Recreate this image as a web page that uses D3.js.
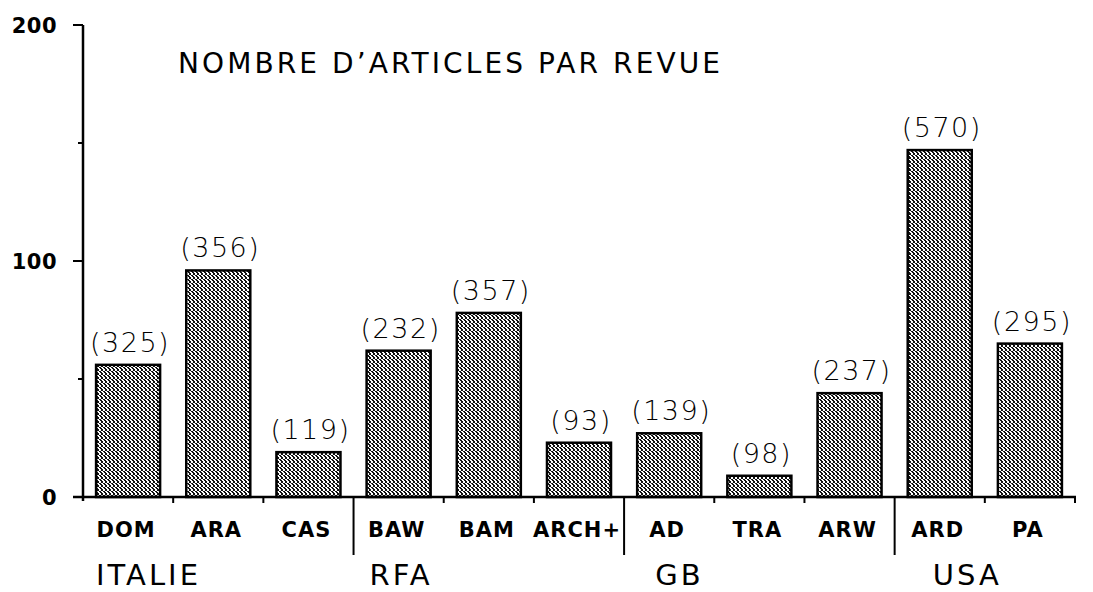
<!DOCTYPE html>
<html>
<head>
<meta charset="utf-8">
<script src="https://cdn.jsdelivr.net/npm/d3@7"></script>
<style>
  html, body { margin: 0; padding: 0; background: #fff; }
  svg { display: block; }
  text { fill: #000; }
</style>
</head>
<body>
<script>
// values
var categories = ["DOM", "ARA", "CAS", "BAW", "BAM", "ARCH+", "AD", "TRA", "ARW", "ARD", "PA"]
var values = [56, 96, 19, 62, 78, 23, 27, 9, 44, 147, 65]
var totals = ["(325)", "(356)", "(119)", "(232)", "(357)", "(93)", "(139)", "(98)", "(237)", "(570)", "(295)"]
var groups = ["ITALIE", "RFA", "GB", "USA"]
var groupStart = [0, 3, 6, 9] // index of first category of each group
var yTicks = [0, 100, 200]
var yMinorTicks = [50, 150]

var width = 1093, height = 592

var svg = d3.select("body").append("svg")
    .attr("width", width)
    .attr("height", height)

// dithered fill like the old mac pattern
var defs = svg.append("defs")
var pat = defs.append("pattern")
    .attr("id", "dither")
    .attr("patternUnits", "userSpaceOnUse")
    .attr("width", 4)
    .attr("height", 4)
pat.append("rect").attr("width", 4).attr("height", 4).attr("fill", "#fff")
var pix = [[0, 0], [1, 0], [1, 1], [2, 1], [2, 2], [1, 2], [0, 3], [3, 3]]
pat.selectAll("rect.p").data(pix).enter().append("rect")
    .attr("class", "p")
    .attr("x", d => d[0]).attr("y", d => d[1])
    .attr("width", 1).attr("height", 1)
    .attr("fill", "#111")
    .attr("shape-rendering", "crispEdges")

var x = d3.scaleBand()
    .domain(categories)
    .range([83, 1075])
    .paddingInner(0.29)
    .paddingOuter(0.145)

var y = d3.scaleLinear()
    .domain([0, 200])
    .range([497, 25])

var step = x.step()
function boundary(i) { return x.range()[0] + i * step }

// title
svg.append("text")
    .attr("x", 178)
    .attr("y", 73)
    .attr("font-family", "DejaVu Sans")
    .attr("font-size", 28)
    .attr("textLength", 542)
    .attr("lengthAdjust", "spacing")
    .text("NOMBRE D\u2019ARTICLES  PAR REVUE")

// bars
svg.selectAll("rect.bar")
    .data(values)
    .enter().append("rect")
    .attr("class", "bar")
    .attr("x", (d, i) => x(categories[i]))
    .attr("y", d => y(d))
    .attr("width", x.bandwidth())
    .attr("height", d => y(0) - y(d))
    .attr("fill", "url(#dither)")
    .attr("stroke", "#000")
    .attr("stroke-width", 2.5)

// handwritten totals above bars
svg.selectAll("text.total")
    .data(values)
    .enter().append("text")
    .attr("class", "total")
    .attr("x", (d, i) => x(categories[i]) + x.bandwidth() / 2 + 2)
    .attr("y", d => y(d) - 13)
    .attr("text-anchor", "middle")
    .attr("font-family", "DejaVu Sans")
    .attr("font-weight", 200)
    .attr("font-size", 27)
    .attr("letter-spacing", 1.5)
    .text((d, i) => totals[i])

// y axis
var yAxis = svg.append("g").attr("stroke", "#000")
yAxis.append("line")
    .attr("x1", 83).attr("x2", 83)
    .attr("y1", y(200)).attr("y2", y(0) + 4)
    .attr("stroke-width", 2.5)
yAxis.selectAll("line.maj").data(yTicks).enter().append("line")
    .attr("x1", 73).attr("x2", 83)
    .attr("y1", d => y(d)).attr("y2", d => y(d))
    .attr("stroke-width", 2)
yAxis.selectAll("line.min").data(yMinorTicks).enter().append("line")
    .attr("x1", 78).attr("x2", 83)
    .attr("y1", d => y(d)).attr("y2", d => y(d))
    .attr("stroke-width", 2)

svg.selectAll("text.ytick")
    .data(yTicks)
    .enter().append("text")
    .attr("class", "ytick")
    .attr("x", 57)
    .attr("y", d => y(d) + 8)
    .attr("text-anchor", "end")
    .attr("font-family", "DejaVu Sans")
    .attr("font-weight", "bold")
    .attr("font-size", 21)
    .attr("letter-spacing", 0.5)
    .text(d => d)

// x axis
svg.append("line")
    .attr("x1", 73).attr("x2", 1076)
    .attr("y1", y(0)).attr("y2", y(0))
    .attr("stroke", "#000")
    .attr("stroke-width", 2.5)

var bounds = d3.range(1, categories.length + 1)
svg.selectAll("line.xtick")
    .data(bounds)
    .enter().append("line")
    .attr("x1", d => boundary(d)).attr("x2", d => boundary(d))
    .attr("y1", y(0))
    .attr("y2", d => groupStart.indexOf(d) > 0 ? 555 : y(0) + 6)
    .attr("stroke", "#000")
    .attr("stroke-width", 2)

// category labels
svg.selectAll("text.cat")
    .data(categories)
    .enter().append("text")
    .attr("class", "cat")
    .attr("x", d => x(d) + x.bandwidth() / 2 - 2)
    .attr("y", 537)
    .attr("text-anchor", "middle")
    .attr("font-family", "DejaVu Sans")
    .attr("font-weight", "bold")
    .attr("font-size", 21)
    .attr("letter-spacing", 1)
    .text(d => d)

// country labels
var groupDx = [0, 3, 18, 25]
svg.selectAll("text.grp")
    .data(groups)
    .enter().append("text")
    .attr("class", "grp")
    .attr("x", (d, i) => x(categories[groupStart[i]]) + groupDx[i])
    .attr("y", 585)
    .attr("font-family", "DejaVu Sans")
    .attr("font-size", 29)
    .attr("letter-spacing", 3)
    .text(d => d)
</script>
</body>
</html>
